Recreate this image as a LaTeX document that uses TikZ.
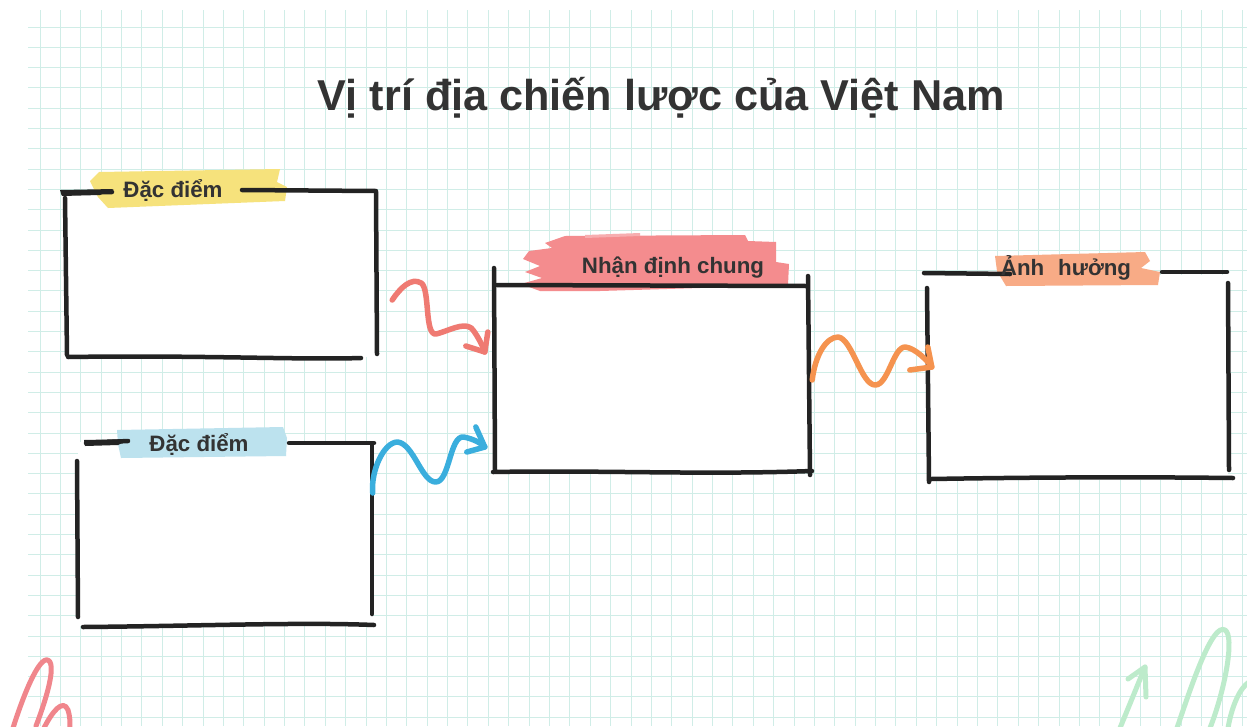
\documentclass[tikz,border=0pt]{standalone}
\usepackage{fontspec}
\setmainfont{Liberation Sans}
\usetikzlibrary{calc}

\definecolor{ink}{HTML}{232323}
\definecolor{textgray}{HTML}{333333}
\definecolor{gridline}{RGB}{208,237,231}
\definecolor{hlyellow}{HTML}{F6E27C}
\definecolor{hlblue}{HTML}{BCE2EE}
\definecolor{hlpink}{HTML}{F48C8E}
\definecolor{hlorange}{HTML}{F8AB86}
\definecolor{wavered}{HTML}{EF7A72}
\definecolor{waveblue}{HTML}{3AAEDD}
\definecolor{waveorange}{HTML}{F5934F}
\definecolor{doodlepink}{HTML}{F0868C}
\definecolor{doodlegreen}{HTML}{BDEBCB}

\tikzset{
  panel/.style={fill=white, draw=none, inner sep=0pt},
  sketch/.style={draw=ink, line width=4.5pt, line cap=round, line join=round},
  wave/.style={line width=5.5pt, line cap=round, line join=round},
  doodle/.style={line width=5pt, line cap=round, line join=round},
  label/.style={font=\bfseries\fontsize{22.3}{26}\selectfont, text=textgray, anchor=base, inner sep=0pt},
  heading/.style={font=\bfseries\fontsize{43.2}{50}\selectfont, text=textgray, anchor=base, inner sep=0pt}
}

\begin{document}
\begin{tikzpicture}[x=1pt, y=-1pt]
  \useasboundingbox (0,0) rectangle (1247,726);
  \fill[white] (0,0) rectangle (1247,726);

  % squared paper
  \begin{scope}
    \clip (28,10) rectangle (1247,726);
    \foreach \i in {-1,...,60} {
      \draw[gridline, line width=1pt] (40+20.38*\i,10) -- (40+20.38*\i,726);
    }
    \foreach \j in {-1,...,36} {
      \draw[gridline, line width=1pt] (28,27+20.3*\j) -- (1247,27+20.3*\j);
    }
  \end{scope}

  % title
  \node[heading] (title) at (661,110) {Vị trí địa chiến lược của Việt Nam};

  % white panels
  \node[panel, minimum width=311pt, minimum height=165pt] (b1) at (220.5,274) {};
  \node[panel, minimum width=295pt, minimum height=184pt] (b2) at (225,534) {};
  \node[panel, minimum width=314pt, minimum height=187pt] (b3) at (652,379) {};
  \node[panel, minimum width=300pt, minimum height=205pt] (b4) at (1078,377) {};

  % ---- panel 1: yellow tab ----
  \fill[hlyellow] (90,181) -- (99,172) -- (280,169) -- (277,182) -- (287,187)
        -- (285,201) -- (108,208) -- (98,197) -- cycle;
  \draw[sketch] (63,193) -- (112,192);
  \fill[ink] (60,190) -- (114,189) -- (100,195) -- (62,196) -- cycle;
  \draw[sketch] (242,190) -- (376,191);
  \draw[sketch] (65,198) -- (67,355);
  \draw[sketch] (376,192) -- (377,354);
  \draw[sketch] (68,357) .. controls (200,355) and (300,360) .. (361,358);
  \node[label] (l1) at (173,197) {Đặc điểm};

  % ---- panel 2: blue tab ----
  \fill[hlblue] (117,430) -- (283,427) -- (287,438) -- (286,456) -- (121,458) -- (118,444) -- cycle;
  \draw[sketch] (86,443) -- (128,441);
  \fill[ink] (84,440) -- (130,439) -- (118,445) -- (85,446) -- cycle;
  \draw[sketch] (289,443) -- (374,443);
  \draw[sketch] (77,461) -- (78,617);
  \draw[sketch] (372,444) -- (372,614);
  \draw[sketch] (83,627) .. controls (200,626) and (300,622) .. (374,625);
  \node[label] (l2) at (199,451) {Đặc điểm};

  % ---- panel 3: pink brush tab ----
  \fill[hlpink] (565,236) -- (745,235) -- (748,241) -- (776,242) -- (776,262)
        -- (789,264) -- (788,285) -- (700,288) -- (600,291) -- (540,291)
        -- (521,284) -- (542,278) -- (525,272) -- (540,266) -- (523,259)
        -- (529,251) -- (552,248) -- (545,243) -- cycle;
  \fill[hlpink!70!white] (585,235) -- (640,233) -- (640,236) -- (585,238) -- cycle;
  \draw[sketch] (494,268) -- (495,471);
  \draw[sketch] (497,285) -- (807,286);
  \draw[sketch] (808,276) -- (810,475);
  \draw[sketch] (493,472) .. controls (600,470) and (700,475) .. (812,471);
  \node[label] (l3) at (673,273) {Nhận định chung};

  % ---- panel 4: orange tab ----
  \fill[hlorange] (995,256) -- (1145,252) -- (1150,261) -- (1141,268) -- (1160,272)
        -- (1158,285) -- (1006,286) -- (997,271) -- cycle;
  \draw[sketch] (924,273) -- (1010,274);
  \draw[sketch] (1162,272) -- (1227,272);
  \draw[sketch] (927,288) -- (929,482);
  \draw[sketch] (1228,283) -- (1229,470);
  \draw[sketch] (931,479) .. controls (1050,477) and (1150,477) .. (1233,478);
  \node[label] (l4) at (1066,275) {Ảnh\hspace{0.35em} hưởng};

  % ---- connectors ----
  \coordinate (rs) at ($(b1.east)+(16,26)$);
  \coordinate (rt) at ($(b3.west)+(-10,-27)$);
  \draw[wave, wavered] (rs) .. controls +(8,-12) and +(-10,-6) .. ++(29,-17)
        .. controls +(9,6) and +(-12,2) .. ++(15,51)
        .. controls +(12,-3) and +(-8,-6) .. ++(35,-6)
        .. controls +(5,5) and +(-2,-6) .. (rt);
  \draw[wave, wavered] ($(rt)+(-19,-6)$) -- (rt) -- ($(rt)+(3,-20)$);

  \coordinate (bs) at ($(b2.east)+(0,-41)$);
  \coordinate (bt) at ($(b3.west)+(-10,68)$);
  \draw[wave, waveblue] (bs) .. controls +(-2,-22) and +(-14,0) .. ++(25,-51)
        .. controls +(16,2) and +(-14,0) .. ++(38,40)
        .. controls +(14,0) and +(-14,-2) .. ++(28,-45)
        .. controls +(10,2) and +(-4,-4) .. (bt);
  \draw[wave, waveblue] ($(bt)+(-9,-20)$) -- (bt) -- ($(bt)+(-18,5)$);

  \coordinate (os) at ($(b3.east)+(3,1)$);
  \coordinate (ot) at ($(b4.west)+(4,-10)$);
  \draw[wave, waveorange] (os) .. controls +(3,-25) and +(-12,0) .. ++(26,-43)
        .. controls +(14,2) and +(-14,0) .. ++(37,48)
        .. controls +(13,0) and +(-12,0) .. ++(30,-38)
        .. controls +(10,1) and +(-4,-6) .. (ot);
  \draw[wave, waveorange] ($(ot)+(-22,3)$) -- (ot) -- ($(ot)+(-4,-20)$);

  % ---- corner doodles ----
  \draw[doodle, doodlepink] (13,728) .. controls (25,690) and (42,650) .. (50,662)
        .. controls (55,672) and (44,705) .. (36,726);
  \draw[doodle, doodlepink] (44,728) .. controls (52,712) and (63,698) .. (68,710)
        .. controls (70,716) and (70,722) .. (70,728);

  \draw[doodle, doodlegreen] (1120,728) -- (1145,667);
  \draw[doodle, doodlegreen] (1128,679) -- (1145,667) -- (1146,697);
  \draw[doodle, doodlegreen] (1177,728) .. controls (1190,690) and (1212,622) .. (1225,630)
        .. controls (1235,636) and (1225,690) .. (1210,728);
  \draw[doodle, doodlegreen] (1228,728) .. controls (1232,705) and (1240,688) .. (1249,682);
\end{tikzpicture}
\end{document}
